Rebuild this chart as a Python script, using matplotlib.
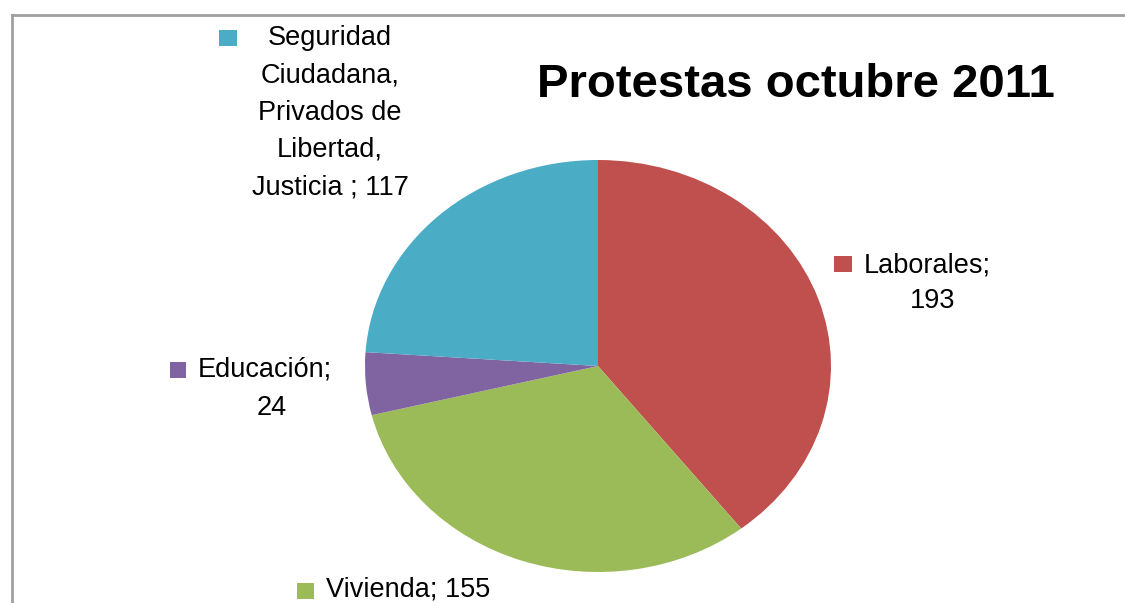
import matplotlib
matplotlib.use("Agg")
import matplotlib.pyplot as plt
from matplotlib.patches import Rectangle
from matplotlib.lines import Line2D

categories = ["Laborales", "Vivienda", "Educación", "Seguridad Ciudadana, Privados de Libertad, Justicia"]
values = [193, 155, 24, 117]
colors = ["#C0504D", "#9BBB59", "#8064A2", "#4BACC6"]
title = "Protestas octubre 2011"

W, H = 1125, 603
fig = plt.figure(figsize=(W / 100, H / 100), dpi=100)

def fx(px):
    return px / W

def fy(py):
    return 1 - py / H

# pie axes (elliptical pie)
ax = fig.add_axes([fx(365), fy(572), (831 - 365) / W, (572 - 160) / H])
ax.pie(values, colors=colors, startangle=90, counterclock=False,
       wedgeprops=dict(linewidth=0))
ax.set_aspect("auto")
ax.set_xlim(-1, 1)
ax.set_ylim(-1, 1)
ax.axis("off")

# chart border (top and left visible)
fig.add_artist(Line2D([fx(11.5), 1], [fy(14.5), fy(14.5)], color="#A0A0A0", lw=2))
fig.add_artist(Line2D([fx(11.5), fx(11.5)], [0, fy(14.5)], color="#A0A0A0", lw=2))

FAM = ["Liberation Sans", "DejaVu Sans"]

# title
fig.text(fx(796), fy(97), title, ha="center", va="baseline",
         fontsize=34, fontweight="bold", family=FAM)

lab_font = dict(fontsize=19.5, family=FAM, color="black")

def marker(x0, y0, x1, y1, c):
    fig.add_artist(Rectangle((fx(x0), fy(y1)), (x1 - x0) / W, (y1 - y0) / H,
                             transform=fig.transFigure, facecolor=c, edgecolor="none"))

# Seguridad label
marker(219, 30, 237, 46, colors[3])
seg_lines = ["Seguridad", "Ciudadana,", "Privados de", "Libertad,", "Justicia ; %d" % values[3]]
for i, ln in enumerate(seg_lines):
    fig.text(fx(330), fy(38 + i * 37.3), ln, ha="center", va="center", **lab_font)

# Laborales label
marker(834, 256, 852, 272, colors[0])
fig.text(fx(927), fy(265), "Laborales;", ha="center", va="center", **lab_font)
fig.text(fx(933), fy(301), "%d" % values[0], ha="center", va="center", **lab_font)

# Educación label
marker(170, 362, 186, 378, colors[2])
fig.text(fx(265), fy(370), "Educación;", ha="center", va="center", **lab_font)
fig.text(fx(272), fy(408), "%d" % values[2], ha="center", va="center", **lab_font)

# Vivienda label
marker(297, 583, 314, 599, colors[1])
fig.text(fx(408), fy(590), "Vivienda; %d" % values[1], ha="center", va="center", **lab_font)

fig.savefig("out.png", dpi=100)
